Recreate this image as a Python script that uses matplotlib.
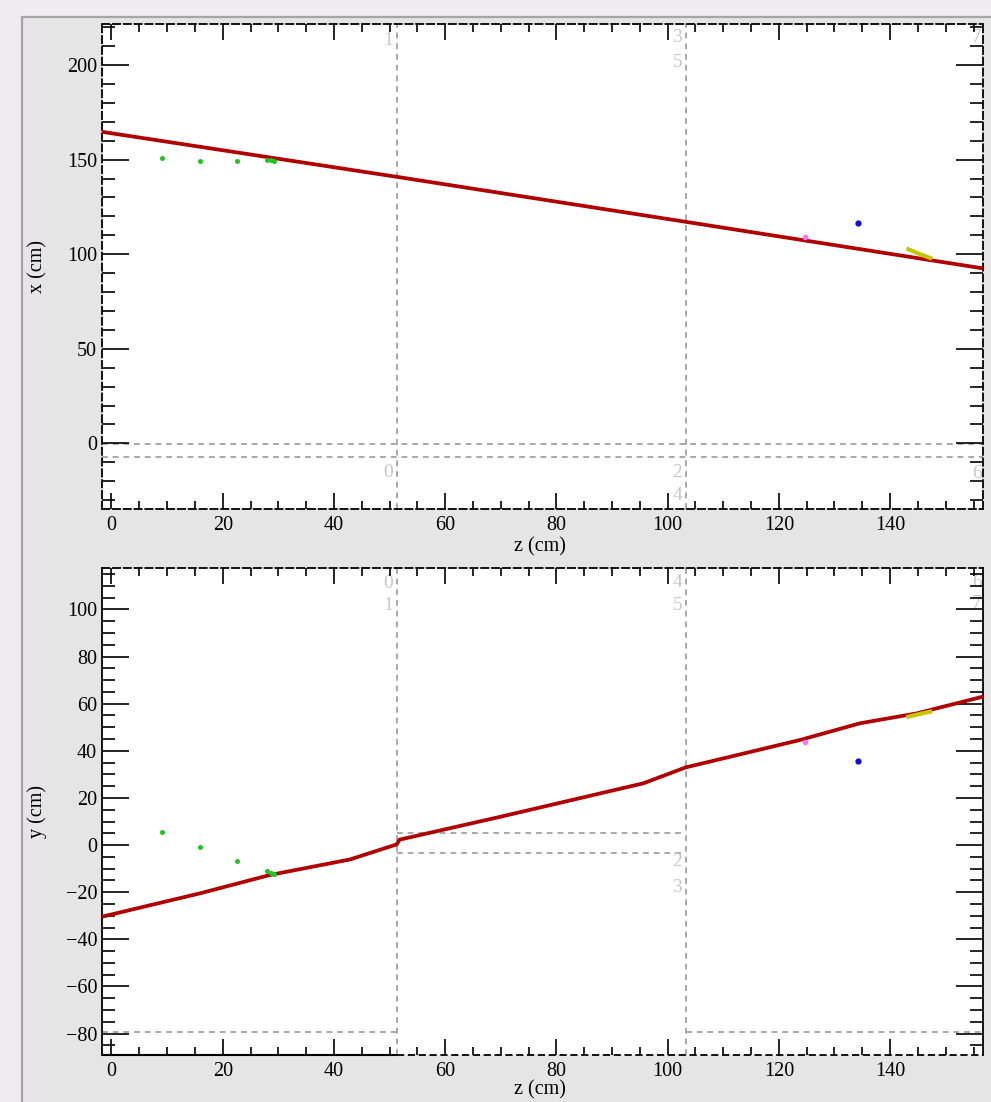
import matplotlib
matplotlib.use("Agg")
import matplotlib.pyplot as plt
import matplotlib.transforms as mtransforms
from matplotlib.patches import Rectangle
from matplotlib.ticker import MultipleLocator

# ---------------- data ----------------
z_limits = [-1.7, 156.7]
x_limits = [-34.7, 221.7]
y_limits = [-89.1, 117.6]

# reconstructed track (red)
track_z_xz = [-1.7, 51.3, 103.3, 156.7]
track_x = [164.7, 140.9, 117.1, 92.5]
track_z_yz = [-1.7, 15.9, 28.5, 42.9, 51.3, 51.8, 69.9, 95.6, 103.3, 123.8, 134.6, 144.8, 156.7]
track_y = [-30.4, -20.5, -12.7, -6.1, 0.3, 2.3, 12.0, 26.2, 33.0, 44.6, 51.7, 55.9, 63.0]

# green hits
green_z = [9.1, 15.9, 22.6, 27.9, 28.6, 29.3]
green_x = [150.7, 149.5, 149.5, 149.7, 149.6, 149.5]
green_y = [5.4, -0.7, -6.6, -10.9, -11.8, -12.3]

# blue hit
blue_z = [134.3]
blue_x = [116.6]
blue_y = [35.6]

# magenta hit
magenta_z = [124.7]
magenta_x = [108.9]
magenta_y = [43.8]

# yellow segment
yellow_z = [143.3, 144.5, 145.8, 147.2]
yellow_x = [102.6, 101.1, 99.5, 98.0]
yellow_y = [54.5, 55.2, 55.9, 56.6]

# detector module boundaries
plane_z = [51.3, 103.3]
xz_hlines = [-0.5, -7.0]
yz_outer_h = -79.2
yz_mid_h = [5.0, -3.5]

# module labels: (z, value, text)
xz_labels = [(50.6, 213.0, "1"), (50.6, -15.2, "0"),
             (102.6, 214.3, "3"), (102.6, 201.6, "5"),
             (102.6, -15.2, "2"), (102.6, -27.3, "4"),
             (156.5, 214.3, "7"), (156.5, -15.8, "6")]
yz_labels = [(50.6, 111.0, "0"), (50.6, 101.6, "1"),
             (102.6, 111.5, "4"), (102.6, 101.6, "5"),
             (102.6, -7.0, "2"), (102.6, -18.0, "3"),
             (156.5, 111.5, "6"), (156.5, 102.5, "7")]

z_major, z_minor = 20, 5
x_major, x_minor = 50, 10
y_major, y_minor = 20, 5

# ---------------- style ----------------
FONT = "Liberation Serif"
plt.rcParams["font.family"] = [FONT, "DejaVu Serif"]
GRAY_LINE = "#a8a8a8"
GRAY_TXT = "#c6c6c6"
TRACK = "#b00000"
DASH = (0, (3, 2.5))

fig = plt.figure(figsize=(9.91, 11.02), dpi=100, facecolor="#efecef")
bg = Rectangle((22 / 991, -0.01), 1.0, 1 - 17 / 1102 + 0.01,
               transform=fig.transFigure, facecolor="#e5e5e5",
               edgecolor="#a5a5a5", linewidth=1.6, zorder=-10)
fig.patches.append(bg)

ax1 = fig.add_axes([102 / 991, 1 - 509 / 1102, 881 / 991, 485 / 1102])
ax2 = fig.add_axes([102 / 991, 1 - 1055 / 1102, 881 / 991, 487 / 1102])
ax1.set_zorder(2)
ax2.set_zorder(2)


def style_axes(ax, ymaj, ymin):
    ax.set_xlim(*z_limits)
    ax.xaxis.set_major_locator(MultipleLocator(z_major))
    ax.xaxis.set_minor_locator(MultipleLocator(z_minor))
    ax.yaxis.set_major_locator(MultipleLocator(ymaj))
    ax.yaxis.set_minor_locator(MultipleLocator(ymin))
    ax.tick_params(axis="x", which="major", direction="in", length=11.5, width=1.2,
                   top=True, bottom=True, labelsize=14.5, pad=5, color="black")
    ax.tick_params(axis="x", which="minor", direction="in", length=5.8, width=1.2,
                   top=True, bottom=True)
    ax.tick_params(axis="y", which="major", direction="in", length=19.4, width=1.2,
                   left=True, right=True, labelsize=14.5, pad=3.5)
    ax.tick_params(axis="y", which="minor", direction="in", length=9.4, width=1.2,
                   left=True, right=True)
    for lab in ax.get_xticklabels() + ax.get_yticklabels():
        lab.set_fontfamily(FONT)
    ax.set_facecolor("white")


# ---------------- top panel (x vs z) ----------------
style_axes(ax1, x_major, x_minor)
ax1.set_ylim(*x_limits)
for pz in plane_z:
    ax1.axvline(pz, color=GRAY_LINE, lw=1.4, ls=DASH, zorder=1)
for hv in xz_hlines:
    ax1.axhline(hv, color=GRAY_LINE, lw=1.4, ls=DASH, zorder=1)
for zz, vv, t in xz_labels:
    ax1.text(zz, vv, t, color=GRAY_TXT, fontsize=14, ha="right", va="center",
             fontfamily=FONT, clip_on=True, zorder=1)
ax1.plot(track_z_xz, track_x, color=TRACK, lw=2.7, zorder=3)
ax1.plot(green_z, green_x, ls="none", marker="o", ms=2.6, color="#22c422", zorder=4)
ax1.plot(blue_z, blue_x, ls="none", marker="o", ms=3.5, color="#1010c8", zorder=4)
ax1.plot(magenta_z, magenta_x, ls="none", marker="o", ms=3.0, color="#ff70ff", zorder=4)
ax1.plot(yellow_z, yellow_x, color="#c4c400", lw=3.0, zorder=4)
for s in ax1.spines.values():
    s.set_linestyle((0, (4, 2)))
    s.set_linewidth(1.3)
ax1.set_xlabel("z (cm)", fontsize=14.5, fontfamily=FONT)
ax1.set_ylabel("x (cm)", fontsize=14.5, fontfamily=FONT)
ax1.xaxis.set_label_coords(0.497, -0.058)
ax1.yaxis.set_label_coords(-0.062, 0.5)

# ---------------- bottom panel (y vs z) ----------------
style_axes(ax2, y_major, y_minor)
ax2.set_ylim(*y_limits)
for pz in plane_z:
    ax2.axvline(pz, color=GRAY_LINE, lw=1.4, ls=DASH, zorder=1)
ax2.plot([z_limits[0], plane_z[0]], [yz_outer_h, yz_outer_h], color=GRAY_LINE, lw=1.4, ls=DASH, zorder=1)
ax2.plot([plane_z[1], z_limits[1]], [yz_outer_h, yz_outer_h], color=GRAY_LINE, lw=1.4, ls=DASH, zorder=1)
for hv in yz_mid_h:
    ax2.plot([plane_z[0], plane_z[1]], [hv, hv], color=GRAY_LINE, lw=1.4, ls=DASH, zorder=1)
for zz, vv, t in yz_labels:
    ax2.text(zz, vv, t, color=GRAY_TXT, fontsize=14, ha="right", va="center",
             fontfamily=FONT, clip_on=True, zorder=1)
ax2.plot(track_z_yz, track_y, color=TRACK, lw=2.7, zorder=3)
ax2.plot(green_z, green_y, ls="none", marker="o", ms=2.6, color="#22c422", zorder=4)
ax2.plot(blue_z, blue_y, ls="none", marker="o", ms=3.5, color="#1010c8", zorder=4)
ax2.plot(magenta_z, magenta_y, ls="none", marker="o", ms=3.0, color="#ff70ff", zorder=4)
ax2.plot(yellow_z, yellow_y, color="#c4c400", lw=3.0, zorder=4)
for name, s in ax2.spines.items():
    s.set_linewidth(1.3)
ax2.spines["top"].set_linestyle((0, (4, 2)))
ax2.spines["bottom"].set_visible(False)
btrans = mtransforms.blended_transform_factory(ax2.transData, ax2.transAxes)
ax2.plot([z_limits[0], plane_z[0]], [0, 0], color="black", lw=1.5, transform=btrans,
         clip_on=False, zorder=5, solid_capstyle="butt")
ax2.plot([plane_z[0], z_limits[1]], [0, 0], color="black", lw=1.3, ls=(0, (4, 2)),
         transform=btrans, clip_on=False, zorder=5)
ax2.set_xlabel("z (cm)", fontsize=14.5, fontfamily=FONT)
ax2.set_ylabel("y (cm)", fontsize=14.5, fontfamily=FONT)
ax2.xaxis.set_label_coords(0.497, -0.051)
ax2.yaxis.set_label_coords(-0.062, 0.5)

fig.savefig("out.png", dpi=100, facecolor=fig.get_facecolor())
